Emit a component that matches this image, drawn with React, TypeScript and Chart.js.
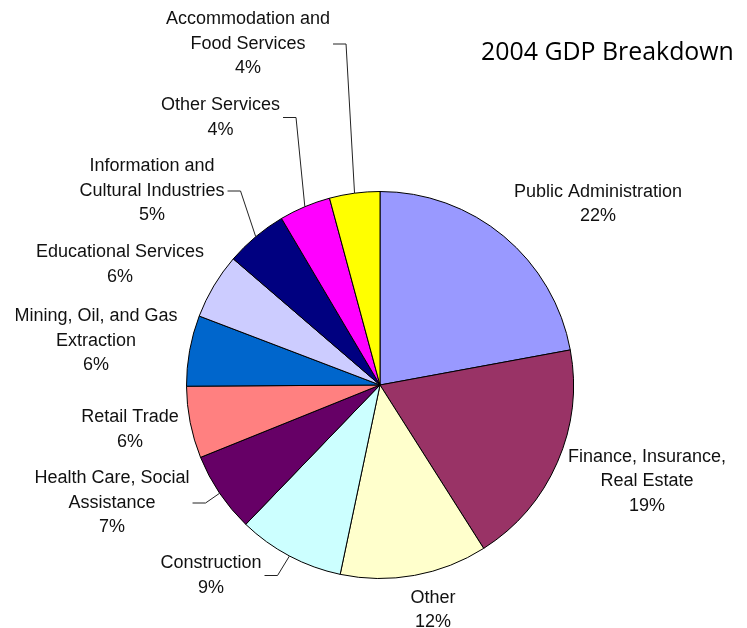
import React, { useEffect, useRef } from "react";
import { Chart, registerables } from "chart.js";

Chart.register(...registerables);

const categories = [
  "Public Administration",
  "Finance, Insurance,\nReal Estate",
  "Other",
  "Construction",
  "Health Care, Social\nAssistance",
  "Retail Trade",
  "Mining, Oil, and Gas\nExtraction",
  "Educational Services",
  "Information and\nCultural Industries",
  "Other Services",
  "Accommodation and\nFood Services",
];

const shares = [22.1, 18.9, 12.3, 8.9, 6.7, 6.0, 5.9, 5.5, 5.2, 4.3, 4.2];

const colors = [
  "#9999FF",
  "#993366",
  "#FFFFCC",
  "#CCFFFF",
  "#660066",
  "#FF8080",
  "#0066CC",
  "#CCCCFF",
  "#000080",
  "#FF00FF",
  "#FFFF00",
];

const titleText = "2004 GDP Breakdown";

// label block centre, offset from pie centre (layout only)
const labelOffsets: [number, number][] = [
  [218, -181],
  [267, 96.5],
  [53, 225],
  [-169, 190.5],
  [-268, 118],
  [-250, 44.5],
  [-284, -44],
  [-260, -120.5],
  [-228, -194],
  [-159.5, -267.5],
  [-132, -341],
];
const withLeader = [false, false, false, true, true, false, false, false, true, true, true];

const LABEL_FONT = "18px 'Liberation Sans', Arial, sans-serif";
const LINE_H = 24.5;

const labelPlugin = {
  id: "pieLabels",
  afterDraw(chart: any) {
    const ctx = chart.ctx as CanvasRenderingContext2D;
    const meta = chart.getDatasetMeta(0);
    const data = chart.data.datasets[0].data as number[];
    const total = data.reduce((a, b) => a + b, 0);
    ctx.save();
    ctx.font = LABEL_FONT;
    ctx.fillStyle = "#111";
    ctx.textAlign = "center";
    ctx.textBaseline = "middle";
    meta.data.forEach((arc: any, i: number) => {
      const lines = String(chart.data.labels[i]).split("\n");
      lines.push(Math.round((data[i] / total) * 100) + "%");
      const cx = arc.x + labelOffsets[i][0];
      const cy = arc.y + labelOffsets[i][1];
      const top = cy - ((lines.length - 1) * LINE_H) / 2;
      let maxW = 0;
      lines.forEach((ln, k) => {
        ctx.fillText(ln, cx, top + k * LINE_H);
        maxW = Math.max(maxW, ctx.measureText(ln).width);
      });
      if (withLeader[i]) {
        const mid = (arc.startAngle + arc.endAngle) / 2;
        const px = arc.x + Math.cos(mid) * arc.outerRadius;
        const py = arc.y + Math.sin(mid) * arc.outerRadius;
        const sx = cx + maxW / 2 + 3;
        ctx.beginPath();
        ctx.strokeStyle = "#222";
        ctx.lineWidth = 1;
        ctx.moveTo(sx, cy);
        ctx.lineTo(sx + 13, cy);
        ctx.lineTo(px, py);
        ctx.stroke();
      }
    });
    ctx.font = "24.9px 'Open Sans', 'Noto Sans', sans-serif";
    ctx.textAlign = "left";
    ctx.fillStyle = "#000";
    ctx.fillText(titleText, 481, 53);
    ctx.restore();
  },
};

export default function App() {
  const ref = useRef<HTMLCanvasElement>(null);
  useEffect(() => {
    if (!ref.current) return;
    const chart = new Chart(ref.current, {
      type: "pie",
      data: {
        labels: categories,
        datasets: [
          {
            data: shares,
            backgroundColor: colors,
            borderColor: "#000",
            borderWidth: 1,
          },
        ],
      },
      options: {
        responsive: false,
        animation: false,
        devicePixelRatio: 1,
        layout: { padding: { left: 186, right: 173, top: 191, bottom: 49 } },
        plugins: {
          legend: { display: false },
          tooltip: { enabled: false },
          title: { display: false },
        },
      },
      plugins: [labelPlugin],
    });
    return () => chart.destroy();
  }, []);
  return (
    <div style={{ position: "absolute", left: 0, top: 0, width: 747, height: 628, background: "#fff" }}>
      <canvas ref={ref} width={747} height={628} />
    </div>
  );
}
